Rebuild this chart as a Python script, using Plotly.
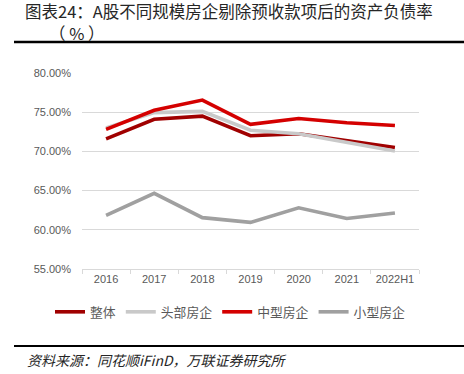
import plotly.graph_objects as go

categories = ["2016", "2017", "2018", "2019", "2020", "2021", "2022H1"]
overall = [71.6, 74.1, 74.5, 72.0, 72.25, 71.4, 70.5]
top_firms = [73.0, 74.95, 75.1, 72.7, 72.25, 71.2, 70.05]
mid_firms = [72.8, 75.25, 76.55, 73.45, 74.2, 73.65, 73.3]
small_firms = [61.85, 64.65, 61.55, 60.95, 62.8, 61.45, 62.15]
series_names = ["整体", "头部房企", "中型房企", "小型房企"]

W, H = 464, 374
L, R, T, B = 82, 45, 73, 105
PW, PH = W - L - R, H - T - B


def px(x):
    return (x - L) / PW


def py(y):
    return (H - B - y) / PH


colors = ["#A00000", "#C9C9C9", "#D40000", "#A0A0A0"]
data = [overall, top_firms, mid_firms, small_firms]

fig = go.Figure()
for name, vals, c in zip(series_names, data, colors):
    fig.add_trace(go.Scatter(x=categories, y=vals, name=name, mode="lines",
                             line=dict(color=c, width=3.6)))

fig.update_layout(
    width=W, height=H,
    margin=dict(l=L, r=R, t=T, b=B, autoexpand=False),
    paper_bgcolor="white", plot_bgcolor="white",
    font=dict(family="Noto Sans CJK SC, Noto Sans, sans-serif", color="#595959"),
    showlegend=True,
    legend=dict(orientation="h", x=px(50), xanchor="left", y=py(312), yanchor="middle",
                font=dict(size=12.8, color="#595959"), itemwidth=30, tracegroupgap=0,
                traceorder="normal"),
    xaxis=dict(type="category", range=[-0.5, 6.5], showgrid=False, showline=True,
               linecolor="#D9D9D9", linewidth=1, ticks="outside", ticklen=4,
               tickcolor="#D9D9D9", tickson="boundaries",
               tickfont=dict(size=11, color="#595959",
                             family="Liberation Sans, Arial, sans-serif"),
               fixedrange=True),
    yaxis=dict(range=[55, 80], dtick=5, tick0=55, tickformat=".2f", ticksuffix="%",
               showgrid=True, gridcolor="#D9D9D9", gridwidth=1, zeroline=False,
               showline=False, ticks="", ticklabelstandoff=10,
               tickfont=dict(size=11, color="#595959",
                             family="Liberation Sans, Arial, sans-serif")),
)

title_font = dict(family="Noto Sans CJK SC", size=16.5, color="#262626")
fig.add_annotation(text="图表24：A股不同规模房企剔除预收款项后的资产负债率",
                   xref="paper", yref="paper", x=px(24), y=py(11), borderpad=0,
                   xanchor="left", yanchor="middle", showarrow=False, font=title_font)
fig.add_annotation(text="（ % ）", xref="paper", yref="paper", x=px(48), y=py(33),
                   borderpad=0, xanchor="left", yanchor="middle", showarrow=False,
                   font=title_font)
fig.add_annotation(text="<i>资料来源：同花顺iFinD，万联证券研究所</i>",
                   xref="paper", yref="paper", x=px(25), y=py(360),
                   xanchor="left", yanchor="middle", showarrow=False,
                   font=dict(family="Noto Sans CJK SC", size=14, color="#262626"))

for yy, wdt in [(42, 2.5), (346, 2.0)]:
    fig.add_shape(type="line", xref="paper", yref="paper", x0=px(14), x1=px(W),
                  y0=py(yy), y1=py(yy), line=dict(color="black", width=wdt))

fig.write_html("out.html", config={"displayModeBar": False},
               post_script="document.body.style.margin='0';")
